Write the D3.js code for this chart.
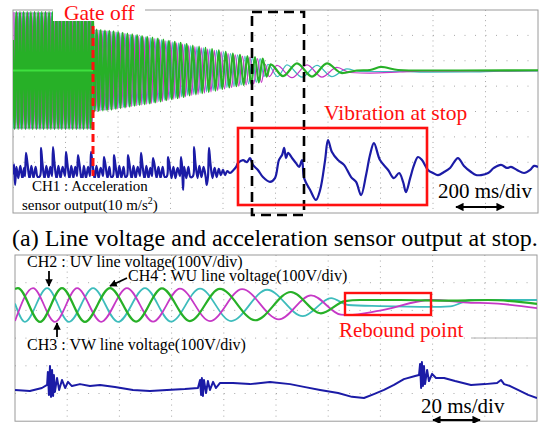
<!DOCTYPE html>
<html><head><meta charset="utf-8">
<script src="https://cdn.jsdelivr.net/npm/d3@7/dist/d3.min.js"></script>
<style>
body{margin:0;background:#fff}
svg{display:block}
</style></head>
<body><svg id="c" width="542" height="423" font-family="'Liberation Serif','DejaVu Serif','Times New Roman',serif"></svg>
<script>
// ---------------- DATA ----------------
// Top trace: 200 ms/div, 10 div => 0..2000 ms. Voltages in V (100 V/div), acceleration in m/s^2 (10 m/s^2/div)
const topTime = [0, 2000];
const topDivX = 10, topDivY = 8;
const gateOffTime = 304.8;

const topCH2_UV = [ // cyan
[1.2,-230],[8.1,230],[15.0,-230],[21.9,230],[28.9,-230],[35.8,230],[42.7,-230],[49.6,230],[56.6,-230],[63.5,230],[70.4,-230],[77.3,230],[84.3,-230],[91.2,230],[98.1,-230],[105.0,230],[112.0,-230],[118.9,230],[125.8,-230],[132.7,230],[139.7,-230],[146.6,230],[153.5,-230],[160.4,230],[167.4,-230],[174.3,230],[181.2,-230],[188.1,230],[195.1,-230],[202.0,230],[208.9,-230],[215.8,230],[222.8,-230],[229.7,230],[236.6,-230],[243.5,230],[250.5,-230],[257.4,230],[264.3,-230],[271.2,230],[278.2,-230],[285.1,230],[292.0,-230],[298.9,230],
[306.1,-161],[313.7,161],[321.3,-159],[329.1,159],[336.9,-157],[344.9,157],[353.0,-156],[361.2,156],[369.4,-154],[377.8,154],[386.2,-151],[394.8,151],[403.4,-148],[412.1,148],[420.9,-145],[429.8,145],[438.8,-142],[448.0,142],[457.2,-139],[466.5,139],[475.9,-136],[485.4,136],[494.9,-133],[504.7,133],[514.5,-130],[524.6,130],[534.7,-126],[545.0,126],[555.3,-122],[565.8,122],[576.3,-117],[586.9,117],[597.6,-113],[608.7,113],[619.8,-109],[631.0,109],[642.3,-104],[653.7,104],[665.2,-98],[677.0,98],[688.9,-94],[700.9,94],[712.9,-89],[725.1,89],[737.3,-84],[749.9,84],[762.6,-79],[775.5,79],[788.5,-73],[801.6,73],[814.9,-67],[828.4,67],[841.9,-62],[855.6,62],[869.4,-57],[883.5,57],[897.6,-53],[912.1,53],[926.6,-47],[941.3,47],[956.0,-24],[971.1,24],
[1008,-24],[1043.8,22],[1101,-26],[1158,20],[1215,-24],[1272,6],[1322,-4],[1474,-4],[1589,-7],[1741,-6],[1855,-3],[2000,-2]];

const topCH3_VW = [ // magenta
[3.5,230],[10.4,-230],[17.3,230],[24.2,-230],[31.2,230],[38.1,-230],[45.0,230],[51.9,-230],[58.9,230],[65.8,-230],[72.7,230],[79.6,-230],[86.6,230],[93.5,-230],[100.4,230],[107.3,-230],[114.3,230],[121.2,-230],[128.1,230],[135.0,-230],[142.0,230],[148.9,-230],[155.8,230],[162.7,-230],[169.7,230],[176.6,-230],[183.5,230],[190.4,-230],[197.4,230],[204.3,-230],[211.2,230],[218.1,-230],[225.1,230],[232.0,-230],[238.9,230],[245.8,-230],[252.8,230],[259.7,-230],[266.6,230],[273.5,-230],[280.5,230],[287.4,-230],[294.3,230],[301.2,-230],
[308.6,161],[316.2,-161],[323.9,159],[331.7,-159],[339.6,157],[347.6,-157],[355.7,156],[363.9,-156],[372.2,154],[380.6,-154],[389.1,151],[397.6,-151],[406.3,148],[415.0,-148],[423.9,145],[432.8,-145],[441.9,142],[451.0,-142],[460.3,139],[469.6,-139],[479.1,136],[488.6,-136],[498.2,133],[507.9,-133],[517.9,130],[528.0,-130],[538.1,126],[548.4,-126],[558.8,122],[569.3,-122],[579.8,117],[590.5,-117],[601.3,113],[612.4,-113],[623.5,109],[634.8,-109],[646.1,104],[657.5,-104],[669.1,98],[681.0,-98],[692.9,94],[704.9,-94],[717.0,89],[729.1,-89],[741.5,84],[754.1,-84],[766.9,79],[779.8,-79],[792.9,73],[806.0,-73],[819.4,67],[832.9,-67],[846.5,62],[860.2,-62],[874.1,57],[888.2,-57],[902.5,53],[917.0,-53],[931.5,47],[946.2,-47],[961.0,24],[976.1,-24],
[1005.7,20],[1062.9,-28],[1120,22],[1177,-26],[1234,12],[1284,-8],[1360,-10],[1474,-6],[1550,-3],[1779,-2],[2000,-1]];

const topCH4_WU = [ // green
[0,120],[5.8,-230],[12.7,230],[19.6,-230],[26.6,230],[33.5,-230],[40.4,230],[47.3,-230],[54.3,230],[61.2,-230],[68.1,230],[75.0,-230],[82.0,230],[88.9,-230],[95.8,230],[102.7,-230],[109.7,230],[116.6,-230],[123.5,230],[130.4,-230],[137.4,230],[144.3,-230],[151.2,230],[158.1,-230],[165.1,230],[172.0,-230],[178.9,230],[185.8,-230],[192.8,230],[199.7,-230],[206.6,230],[213.5,-230],[220.5,230],[227.4,-230],[234.3,230],[241.2,-230],[248.2,230],[255.1,-230],[262.0,230],[268.9,-230],[275.9,230],[282.8,-230],[289.7,230],[296.6,-230],[303.6,230],
[311.1,-161],[318.7,161],[326.5,-159],[334.3,159],[342.3,-157],[350.3,157],[358.4,-156],[366.6,156],[375.0,-154],[383.4,154],[391.9,-151],[400.5,151],[409.2,-148],[417.9,148],[426.9,-145],[435.8,145],[444.9,-142],[454.1,142],[463.4,-139],[472.7,139],[482.2,-136],[491.7,136],[501.4,-133],[511.2,133],[521.2,-130],[531.3,130],[541.5,-126],[551.8,126],[562.3,-122],[572.8,122],[583.4,-117],[594.0,117],[605.0,-113],[616.1,113],[627.3,-109],[638.5,109],[649.9,-104],[661.3,104],[673.1,-98],[684.9,98],[696.9,-94],[708.9,94],[721.0,-89],[733.2,89],[745.7,-84],[758.3,84],[771.2,-79],[784.1,79],[797.3,-73],[810.4,73],[823.9,-67],[837.4,67],[851.0,-62],[864.7,62],[878.8,-57],[892.9,57],[907.3,-53],[921.8,53],[936.4,-47],[951.1,47],[966.0,-24],[981.1,24],
[1028.6,-22],[1081.9,28],[1139,-24],[1196.2,28],[1253.3,-10],[1310,0],[1360,2],[1402,14],[1467,2],[1550,0],[1703,0],[2000,1]];

const topPwmZero = [[0,0],[304.8,0]];

const topCH1_acc = [
[0,-1.0],[4,3.0],[8,-5.1],[13,2.0],[20,-2.4],[28,2.4],[36,-2.8],[42,1.6],
[45.7,-1.6],[49.5,7.5],[55,3.5],[63,-2.8],[70,2.4],[78,-2.4],[86,2.0],[94,-2.0],
[102.9,-1.6],[106.7,9.5],[112,3.5],[120,-2.8],[127,2.4],[135,-2.4],[142,2.0],
[148.6,-1.6],[152.4,9.8],[158,3.5],[166,-2.8],[173,2.4],[181,-2.4],[189,2.0],
[198.1,-1.6],[201.9,7.9],[207,3.5],[215,-2.8],[222,2.4],[230,-2.4],[237,2.0],
[243.8,-1.6],[247.6,6.7],[253,3.2],[263,-3.9],[270,2.4],[278,-2.4],[286,2.0],
[293.4,-1.6],[297.2,7.9],[303,3.2],[311,-2.8],[318,2.4],[326,-2.4],[334,1.6],
[342.9,-1.6],[346.7,5.9],[352,3.0],[360,-2.4],[367,2.0],[374,-2.0],
[381,-1.6],[384.8,6.7],[390,3.0],[398,-2.8],[405,2.4],[413,-2.4],[421,2.0],[428,-2.0],
[434.3,-1.6],[438.1,6.7],[444,3.0],[452,-2.8],[459,2.4],[467,-2.4],[475,2.0],
[483.9,-1.6],[487.7,7.5],[493,3.0],[501,-2.8],[508,2.4],[516,-2.4],[523,1.6],
[529.6,-1.6],[533.4,5.5],[539,3.0],[547,-2.4],[554,2.0],[562,-2.4],[570,2.0],[578,-2.0],
[586.7,-1.6],[590.5,5.9],[596,3.0],[604,-2.4],[611,2.0],[619,-2.4],[627,1.6],
[636.3,-1.6],[640.1,5.9],[644,2.4],[648,-7.1],[652,2.0],[660,-2.4],[668,2.0],[676,-2.0],
[685.8,-1.6],[689.6,9.8],[695,3.5],[703,-2.4],[710,2.4],[718,-2.0],[726,2.0],[734,-2.0],
[738,-5.1],[742.9,-1.6],[746.7,9.5],[752,3.5],[760,-2.4],[768,1.6],[776,-2.0],[784,1.2],
[792,-1.2],[800,0.8],[808,-1.2],[816,0.4],[826.7,-0.4],[840,0.8],[850,2.0],[857,3.5],[876,4.7],[891.4,3.9],[903,5.5],[914,2.8],[933,0.8],[952,-2.0],[979,-3.9],[998,-2.4],[1013,4.7],[1025,6.7],[1033,9.5],[1040,5.5],[1048,7.5],[1063,5.5],[1078,3.5],[1090,2.0],[1101,4.7],[1109,-2.4],[1132,-7.1],[1154,-11.0],[1170,-7.1],[1189,4.7],[1200,12.6],[1215,7.9],[1238,4.7],[1261,2.8],[1288,-2.0],[1307,-3.9],[1326,-9.1],[1345,-1.2],[1360,6.7],[1375,11.4],[1398,4.7],[1429,0.8],[1451,-2.4],[1471,-0.4],[1486,-3.9],[1497,-7.9],[1513,-2.4],[1528,2.8],[1543,5.9],[1558,4.7],[1581,0.8],[1600,-0.4],[1619,-1.2],[1642,0],[1665,1.6],[1695,5.5],[1718,2.4],[1745,0],[1764,-1.2],[1783,-1.2],[1810,-0.4],[1832,1.6],[1859,2.8],[1882,1.6],[1897,2.0],[1920,0.8],[1947,-0.4],[1970,0.8],[1985,2.4],[2000,2.0]];

// Bottom trace: 20 ms/div => 0..200 ms
const botTime = [0, 200];
const botDivX = 10, botDivY = 6;
const botCH2_UV = [[0,5],[3.8,-61],[12.3,61],[20.7,-61],[29.9,61],[39.5,-61],[49.8,61],[59.8,-60],[70.9,59],[82.8,-58],[96.6,55],[110.3,-40],[121.1,25],[127.6,0],[139.8,-4],[159.4,-7],[166.7,-5],[174.7,18],[200,18]];
const botCH3_VW = [[0,-58],[6.9,61],[15.3,-61],[23.8,61],[33.0,-61],[42.9,61],[52.9,-60],[63.2,59],[74.7,-58],[87.0,57],[101.1,-52],[113.4,35],[124.9,-35],[127.6,-36],[139.8,-20],[159.4,18],[174.7,8],[181.2,7],[200,-11]];
const botCH4_WU = [[0,58],[1.1,61],[9.6,-61],[18.0,61],[26.8,-61],[36.4,61],[46.4,-60],[56.3,60],[67.0,-58],[78.5,58],[92.0,-55],[105.7,47],[117.2,-30],[126.4,14],[132.2,18],[147.5,18],[166.7,16],[181.2,18],[200,4]];
const botCH1_acc = [[0,-0.7],[5.7,-1.1],[10.3,0],[12.3,1.1],[12.6,5.8],[13.0,-2.5],[13.4,7.9],[13.8,-3.2],[14.2,6.5],[14.6,-2.9],[14.9,4.7],[15.3,-1.4],[16.1,3.6],[16.9,-0.7],[18.0,2.9],[19.2,0],[20.3,2.2],[21.8,0.7],[24.9,1.4],[28.7,0.7],[32.6,1.1],[38.3,0.4],[45.2,-0.7],[51.7,-1.1],[58.2,-0.7],[65.1,-0.4],[70.1,0],[70.9,2.9],[71.3,-2.5],[71.6,3.6],[72.0,-2.9],[72.4,2.9],[73.2,-1.8],[73.9,2.5],[74.7,-0.7],[75.9,2.2],[77.0,0],[78.5,1.8],[83.5,1.8],[90.0,1.4],[97.7,2.2],[105.4,1.4],[110.7,0.4],[116.9,-0.7],[123.8,-1.8],[129.1,-3.2],[133.7,-3.6],[137.5,-2.2],[141.4,-0.7],[145.2,1.1],[149.0,3.2],[153.3,4.3],[154.8,4.7],[155.2,8.7],[155.6,0],[155.9,9.4],[156.3,0.7],[156.7,7.9],[157.1,1.4],[157.9,6.5],[158.6,2.5],[159.8,5.1],[161.3,3.6],[164.4,3.6],[168.6,2.5],[174.7,1.1],[180.1,1.4],[184.7,1.8],[186.2,2.9],[187.4,1.4],[189.7,0.7],[192.7,-0.7],[196.6,-2.5],[200,-3.6]];

// ---------------- DRAW ----------------
const FONT = "'Liberation Serif','DejaVu Serif','Times New Roman',serif";
const svg = d3.select("#c");
svg.append("rect").attr("width",542).attr("height",423).attr("fill","#fff");
const COL = {cyan:"#3dbcbc", mag:"#c638c6", green:"#27b027", blue:"#1b1ba6", red:"#ff1010", grid:"#a8a8a8"};

const defs = svg.append("defs");
function clip(id,x0,y0,x1,y1){defs.append("clipPath").attr("id",id).append("rect").attr("x",x0).attr("y",y0).attr("width",x1-x0).attr("height",y1-y0);}
const mk = defs.append("marker").attr("id","ah").attr("viewBox","0 0 10 10").attr("refX",9).attr("refY",5)
  .attr("markerWidth",4.2).attr("markerHeight",4.2).attr("orient","auto-start-reverse").attr("markerUnits","strokeWidth");
mk.append("path").attr("d","M0,0L10,5L0,10Z").attr("fill","#000");

function label(x,y,size,fill,str){
  return svg.append("text").attr("x",x).attr("y",y).attr("font-family",FONT).attr("font-size",size).attr("fill",fill).text(str);
}

function grid(x, y0, y1, nx, ny){
  const [x0,x1] = x.range();
  const g = svg.append("g");
  const dx = (x1-x0)/nx, dy = (y1-y0)/ny;
  for(let i=1;i<nx;i++){
    g.append("line").attr("x1",x0+i*dx).attr("x2",x0+i*dx).attr("y1",y0).attr("y2",y1)
     .attr("stroke",COL.grid).attr("stroke-width",1).attr("stroke-dasharray",`1,${dy/5-1}`);
  }
  for(let j=1;j<ny;j++){
    g.append("line").attr("x1",x0).attr("x2",x1).attr("y1",y0+j*dy).attr("y2",y0+j*dy)
     .attr("stroke",COL.grid).attr("stroke-width",1).attr("stroke-dasharray",`1,${dx/5-1}`);
  }
  g.append("rect").attr("x",x0).attr("y",y0).attr("width",x1-x0).attr("height",y1-y0)
   .attr("fill","none").attr("stroke","#9a9a9a").attr("stroke-width",1);
}

// ---- top panel ----
const xT = d3.scaleLinear().domain(topTime).range([13,538]);
const yTV = d3.scaleLinear().domain([-561.6,238.4]).range([213,10]);
const yTA = d3.scaleLinear().domain([-16.16,63.84]).range([213,10]);
grid(xT,10,213,topDivX,topDivY);
clip("ct",13,10,538,213);
const gT = svg.append("g").attr("clip-path","url(#ct)");
const lineTV = d3.line().x(d=>xT(d[0])).y(d=>yTV(d[1])).curve(d3.curveMonotoneX);
const lineTA = d3.line().x(d=>xT(d[0])).y(d=>yTA(d[1])).curve(d3.curveCatmullRom.alpha(0.5));
gT.append("path").datum(topCH2_UV).attr("d",lineTV).attr("fill","none").attr("stroke",COL.cyan).attr("stroke-width",1.2);
gT.append("path").datum(topCH3_VW).attr("d",lineTV).attr("fill","none").attr("stroke",COL.mag).attr("stroke-width",1.2);
gT.append("path").datum(topCH4_WU).attr("d",lineTV).attr("fill","none").attr("stroke",COL.green).attr("stroke-width",2.2);
gT.append("path").datum(topPwmZero).attr("d",d3.line().x(d=>xT(d[0])).y(d=>yTV(d[1]))).attr("fill","none").attr("stroke","#3ee03e").attr("stroke-width",2);
gT.append("path").datum(topCH1_acc).attr("d",lineTA).attr("fill","none").attr("stroke",COL.blue).attr("stroke-width",2.2).attr("stroke-linejoin","round");

// annotations top
svg.append("rect").attr("x",53).attr("y",0).attr("width",92).attr("height",21).attr("fill","#fff");
label(64,20,21.5,COL.red,"Gate off");
svg.append("line").attr("x1",xT(gateOffTime)).attr("x2",xT(gateOffTime)).attr("y1",26).attr("y2",176)
  .attr("stroke",COL.red).attr("stroke-width",3).attr("stroke-dasharray","8,4");
svg.append("rect").attr("x",252).attr("y",12).attr("width",52).attr("height",203)
  .attr("fill","none").attr("stroke","#000").attr("stroke-width",2.6).attr("stroke-dasharray","10,6");
svg.append("rect").attr("x",238).attr("y",128).attr("width",189).attr("height",77)
  .attr("fill","none").attr("stroke",COL.red).attr("stroke-width",2.6);
label(324,120,21.5,COL.red,"Vibration at stop");
svg.append("rect").attr("x",20).attr("y",178).attr("width",148).attr("height",34).attr("fill","#fff");
label(32,191,15,"#000","CH1 : Acceleration");
const t2 = label(22,210,15,"#000","");
t2.append("tspan").text("sensor output(10 m/s");
t2.append("tspan").attr("font-size",10).attr("dy",-6).text("2");
t2.append("tspan").attr("dy",6).text(")");
label(438,198,21,"#000","200 ms/div");
svg.append("line").attr("x1",456).attr("x2",504).attr("y1",207).attr("y2",207).attr("stroke","#000").attr("stroke-width",2)
  .attr("marker-start","url(#ah)").attr("marker-end","url(#ah)");

// caption
label(12,246,24,"#000","(a) Line voltage and acceleration sensor output at stop.");

// ---- bottom panel ----
const xB = d3.scaleLinear().domain(botTime).range([15,537]);
const yBV = d3.scaleLinear().domain([-100,100]).range([332.7,277.3]);
const yBA = d3.scaleLinear().domain([-10,10]).range([415.7,360.3]);
grid(xB,255,421.2,botDivX,botDivY);
svg.append("line").attr("x1",471).attr("x2",537).attr("y1",338).attr("y2",338).attr("stroke","#b0b0b0").attr("stroke-width",1);
clip("cb",15,255,537,423);
const gB = svg.append("g").attr("clip-path","url(#cb)");
const lineBV = d3.line().x(d=>xB(d[0])).y(d=>yBV(d[1])).curve(d3.curveMonotoneX);
const lineBA = d3.line().x(d=>xB(d[0])).y(d=>yBA(d[1]));
gB.append("path").datum(botCH2_UV).attr("d",lineBV).attr("fill","none").attr("stroke",COL.cyan).attr("stroke-width",1.8);
gB.append("path").datum(botCH3_VW).attr("d",lineBV).attr("fill","none").attr("stroke",COL.mag).attr("stroke-width",1.8);
gB.append("path").datum(botCH4_WU).attr("d",lineBV).attr("fill","none").attr("stroke",COL.green).attr("stroke-width",2.2);
gB.append("path").datum(botCH1_acc).attr("d",lineBA).attr("fill","none").attr("stroke",COL.blue).attr("stroke-width",2).attr("stroke-linejoin","round");

label(27,267,16,"#000","CH2 : UV line voltage(100V/div)");
label(128,281,16,"#000","CH4 : WU line voltage(100V/div)");
label(27,350,16,"#000","CH3 : VW line voltage(100V/div)");
function arrow(x1,y1,x2,y2){svg.append("line").attr("x1",x1).attr("y1",y1).attr("x2",x2).attr("y2",y2).attr("stroke","#000").attr("stroke-width",1.8).attr("marker-end","url(#ah)");}
arrow(49,271,49,286);
arrow(57,337,57,323);
arrow(127,278,110,286);
svg.append("rect").attr("x",345).attr("y",293).attr("width",86).attr("height",22).attr("fill","none").attr("stroke",COL.red).attr("stroke-width",2.4);
label(339,337,21,COL.red,"Rebound point");
label(421,413,21,"#000","20 ms/div");
svg.append("line").attr("x1",433).attr("x2",480).attr("y1",420).attr("y2",420).attr("stroke","#000").attr("stroke-width",2)
  .attr("marker-start","url(#ah)").attr("marker-end","url(#ah)");
</script></body></html>
